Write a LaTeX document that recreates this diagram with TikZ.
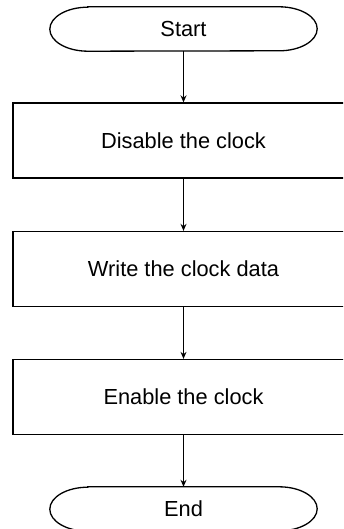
\documentclass[tikz,border=0pt]{standalone}
\usepackage{fontspec}
\setmainfont{Liberation Sans}
\usetikzlibrary{arrows.meta}
\tikzset{
  procbox/.style={draw, line width=1.3pt, minimum width=341pt, minimum height=75pt, inner sep=0pt, font=\fontsize{21.8}{26}\selectfont},
  termnode/.style={inner sep=0pt, minimum width=267pt, minimum height=44pt, font=\fontsize{21.8}{26}\selectfont},
  termline/.style={line width=1.3pt},
  flowarrow/.style={line width=1.1pt, -{Stealth[length=7pt,width=6pt]}}
}
\newcommand{\termoutline}[1]{%
  \draw[termline] ([xshift=38pt]#1.north west) -- ([xshift=-38pt]#1.north east)
    arc[start angle=90,end angle=-90,x radius=38pt,y radius=22pt]
    -- ([xshift=38pt]#1.south west)
    arc[start angle=270,end angle=90,x radius=38pt,y radius=22pt] -- cycle;}
\begin{document}
\begin{tikzpicture}[x=1pt,y=1pt]
\useasboundingbox (0,0) rectangle (343,-529);
\clip (0,0) rectangle (343,-529);
\fill[white] (0,0) rectangle (343,-529);
\node[termnode] (start) at (183.5,-29) {Start};
\termoutline{start}
\node[procbox] (b1) at (183.5,-140.5) {Disable the clock};
\node[procbox] (b2) at (183.5,-269) {Write the clock data};
\node[procbox] (b3) at (183.5,-397) {Enable the clock};
\node[termnode] (end) at (183.5,-509) {End};
\termoutline{end}
\draw[flowarrow] (start) -- (b1);
\draw[flowarrow] (b1) -- (b2);
\draw[flowarrow] (b2) -- (b3);
\draw[flowarrow] (b3) -- (end);
\end{tikzpicture}
\end{document}
